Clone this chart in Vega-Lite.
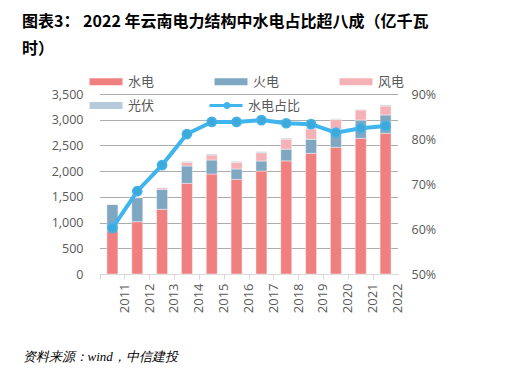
{
  "$schema": "https://vega.github.io/schema/vega-lite/v6.json",
  "width": 298,
  "height": 180,
  "autosize": {"type": "none"},
  "padding": {"left": 100, "top": 94, "right": 123, "bottom": 107},
  "background": "white",
  "config": {"view": {"stroke": null}, "font": "Noto Sans CJK SC"},
  "title": {
    "text": ["图表3：  2022 年云南电力结构中水电占比超八成（亿千瓦", "时）"],
    "anchor": "start",
    "frame": "group",
    "dx": -78,
    "offset": 2,
    "fontSize": 16,
    "fontWeight": "bold",
    "color": "#000000",
    "font": "Noto Sans CJK SC",
    "lineHeight": 27,
    "baseline": "bottom"
  },
  "datasets": {
    "gen": [
      {"year": "2011", "type": "水电", "value": 855}, {"year": "2011", "type": "火电", "value": 500}, {"year": "2011", "type": "风电", "value": 5}, {"year": "2011", "type": "光伏", "value": 0},
      {"year": "2012", "type": "水电", "value": 1017}, {"year": "2012", "type": "火电", "value": 467}, {"year": "2012", "type": "风电", "value": 15}, {"year": "2012", "type": "光伏", "value": 0},
      {"year": "2013", "type": "水电", "value": 1258}, {"year": "2013", "type": "火电", "value": 389}, {"year": "2013", "type": "风电", "value": 31}, {"year": "2013", "type": "光伏", "value": 5},
      {"year": "2014", "type": "水电", "value": 1763}, {"year": "2014", "type": "火电", "value": 337}, {"year": "2014", "type": "风电", "value": 72}, {"year": "2014", "type": "光伏", "value": 18},
      {"year": "2015", "type": "水电", "value": 1944}, {"year": "2015", "type": "火电", "value": 273}, {"year": "2015", "type": "风电", "value": 97}, {"year": "2015", "type": "光伏", "value": 19},
      {"year": "2016", "type": "水电", "value": 1841}, {"year": "2016", "type": "火电", "value": 201}, {"year": "2016", "type": "风电", "value": 130}, {"year": "2016", "type": "光伏", "value": 18},
      {"year": "2017", "type": "水电", "value": 2003}, {"year": "2017", "type": "火电", "value": 194}, {"year": "2017", "type": "风电", "value": 162}, {"year": "2017", "type": "光伏", "value": 21},
      {"year": "2018", "type": "水电", "value": 2200}, {"year": "2018", "type": "火电", "value": 227}, {"year": "2018", "type": "风电", "value": 195}, {"year": "2018", "type": "光伏", "value": 20},
      {"year": "2019", "type": "水电", "value": 2347}, {"year": "2019", "type": "火电", "value": 272}, {"year": "2019", "type": "风电", "value": 200}, {"year": "2019", "type": "光伏", "value": 20},
      {"year": "2020", "type": "水电", "value": 2463}, {"year": "2020", "type": "火电", "value": 350}, {"year": "2020", "type": "风电", "value": 190}, {"year": "2020", "type": "光伏", "value": 15},
      {"year": "2021", "type": "水电", "value": 2638}, {"year": "2021", "type": "火电", "value": 356}, {"year": "2021", "type": "风电", "value": 195}, {"year": "2021", "type": "光伏", "value": 11},
      {"year": "2022", "type": "水电", "value": 2735}, {"year": "2022", "type": "火电", "value": 357}, {"year": "2022", "type": "风电", "value": 175}, {"year": "2022", "type": "光伏", "value": 19}
    ],
    "share": [
      {"year": "2011", "share": 0.602}, {"year": "2012", "share": 0.684}, {"year": "2013", "share": 0.742},
      {"year": "2014", "share": 0.811}, {"year": "2015", "share": 0.838}, {"year": "2016", "share": 0.838},
      {"year": "2017", "share": 0.842}, {"year": "2018", "share": 0.835}, {"year": "2019", "share": 0.833},
      {"year": "2020", "share": 0.814}, {"year": "2021", "share": 0.824}, {"year": "2022", "share": 0.829}
    ]
  },
  "encoding": {
    "x": {
      "field": "year",
      "type": "ordinal",
      "scale": {"paddingInner": 0, "paddingOuter": 0},
      "axis": {
        "title": "资料来源：wind，中信建投",
        "titleX": -78,
        "titleY": 82,
        "titleAlign": "left",
        "titleBaseline": "middle",
        "titleFontStyle": "italic",
        "titleFontWeight": "normal",
        "titleFontSize": 13,
        "titleColor": "#000000",
        "titleFont": "Liberation Serif",
        "labelAngle": -90,
        "labelAlign": "right",
        "labelBaseline": "middle",
        "labelPadding": 4,
        "labelFontSize": 13,
        "labelColor": "#595959",
        "labelFont": "Open Sans",
        "bandPosition": 0,
        "labelOffset": 12.4,
        "tickColor": "#D9D9D9",
        "tickSize": 5,
        "domainColor": "#D9D9D9",
        "grid": false
      }
    }
  },
  "layer": [
    {
      "data": {"name": "gen"},
      "transform": [
        {"calculate": "indexof(['水电', '火电', '风电', '光伏'], datum.type)", "as": "stackOrder"}
      ],
      "mark": {"type": "bar", "size": 11, "stroke": "white", "strokeWidth": 0.7, "strokeOpacity": 0.6},
      "encoding": {
        "y": {
          "field": "value",
          "type": "quantitative",
          "stack": "zero",
          "scale": {"domain": [0, 3500]},
          "axis": {
            "title": null,
            "values": [0, 500, 1000, 1500, 2000, 2500, 3000, 3500],
            "format": ",.0f",
            "domain": false,
            "ticks": false,
            "labelPadding": 17,
            "labelFontSize": 12.5,
            "labelColor": "#595959",
            "labelFont": "Open Sans",
            "grid": true,
            "gridColor": "#595959",
            "gridDash": [1, 1],
            "gridWidth": 1
          }
        },
        "order": {"field": "stackOrder", "type": "quantitative", "sort": "ascending"},
        "color": {
          "field": "type",
          "type": "nominal",
          "scale": {
            "domain": ["水电", "火电", "风电", "光伏"],
            "range": ["#F08080", "#7FA7C2", "#F5B2B6", "#B5CADB"]
          },
          "legend": {
            "orient": "none",
            "legendX": -12,
            "legendY": -19,
            "direction": "horizontal",
            "columns": 3,
            "title": null,
            "symbolType": "M-1,-0.7H5.6V0.7H-1Z",
            "symbolSize": 100,
            "symbolStrokeWidth": 0,
            "labelOffset": 27,
            "columnPadding": 58,
            "rowPadding": 10,
            "gridAlign": "all",
            "labelFontSize": 13,
            "labelColor": "#595959",
            "labelFont": "Noto Sans CJK SC",
            "padding": 0
          }
        }
      }
    },
    {
      "data": {"name": "share"},
      "encoding": {
        "y": {
          "field": "share",
          "type": "quantitative",
          "scale": {"domain": [0.5, 0.9]},
          "axis": {
            "orient": "right",
            "title": null,
            "values": [0.5, 0.6, 0.7, 0.8, 0.9],
            "format": ".0%",
            "domain": false,
            "ticks": false,
            "grid": false,
            "labelPadding": 13,
            "labelFontSize": 12.5,
            "labelColor": "#595959",
            "labelFont": "Open Sans"
          }
        }
      },
      "layer": [
        {
          "mark": {"type": "line", "strokeWidth": 4},
          "encoding": {
            "stroke": {
              "datum": "水电占比",
              "scale": {"domain": ["水电占比"], "range": ["#40B4EC"]},
              "legend": {
                "orient": "none",
                "legendX": 108,
                "legendY": 5,
                "title": null,
                "symbolType": "M-1,-0.3H5.6V0.3H-1Z M1.8,0A0.7,0.7 0 1,1 3.2,0A0.7,0.7 0 1,1 1.8,0Z",
                "symbolSize": 100,
                "symbolFillColor": "#40B4EC",
                "symbolStrokeWidth": 0,
                "labelOffset": 27,
                "labelFontSize": 13,
                "labelColor": "#595959",
                "labelFont": "Noto Sans CJK SC",
                "padding": 0,
                "encode": {
                  "symbols": {
                    "update": {
                      "fill": {"value": "#40B4EC"},
                      "strokeWidth": {"value": 0}
                    }
                  }
                }
              }
            }
          }
        },
        {
          "mark": {"type": "point", "filled": true, "size": 85, "fill": "#3DA9DA", "stroke": "#42B3EA", "strokeWidth": 1.5, "opacity": 1}
        }
      ]
    }
  ],
  "resolve": {"scale": {"y": "independent"}}
}
